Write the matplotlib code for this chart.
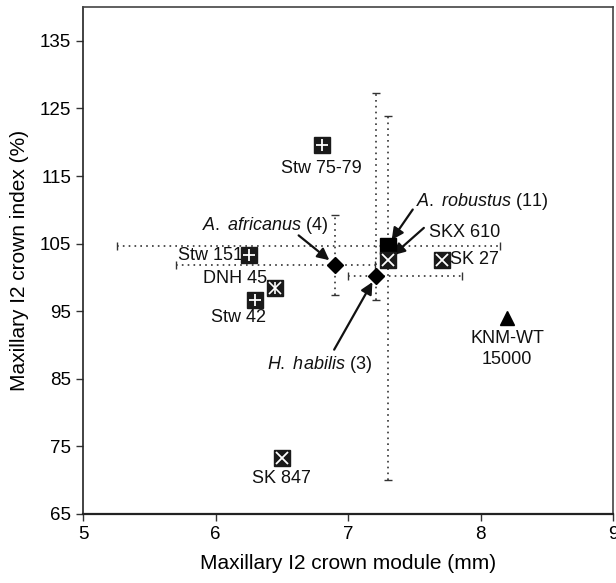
import matplotlib
matplotlib.use("Agg")
import matplotlib.pyplot as plt

plt.rcParams['font.family'] = ['Liberation Sans', 'DejaVu Sans']
plt.rcParams['mathtext.fontset'] = 'custom'
plt.rcParams['mathtext.it'] = 'Liberation Sans:italic'
plt.rcParams['mathtext.rm'] = 'Liberation Sans'

# Group means with observed ranges (min, max)
group_names = ["A. africanus", "H. habilis", "A. robustus"]
group_n = [4, 3, 11]
group_module = [6.90, 7.21, 7.30]
group_index = [101.9, 100.2, 104.7]
group_module_min = [5.70, 7.00, 5.26]
group_module_max = [7.20, 7.86, 8.15]
group_index_min = [97.4, 96.6, 70.0]
group_index_max = [109.3, 127.3, 123.9]

# Individual specimens
spec_names = ["Stw 75-79", "Stw 151", "Stw 42", "DNH 45", "SKX 610", "SK 27", "SK 847", "KNM-WT\n15000"]
spec_module = [6.80, 6.25, 6.30, 6.45, 7.30, 7.71, 6.50, 8.20]
spec_index = [119.6, 103.3, 96.7, 98.4, 102.6, 102.6, 73.3, 94.0]
spec_symbol = ["plus", "plus", "plus", "star", "cross", "cross", "cross", "triangle"]

x_ticks = [5, 6, 7, 8, 9]
y_ticks = [65, 75, 85, 95, 105, 115, 125, 135]

fig = plt.figure(figsize=(6.16, 5.83), dpi=100)
ax = fig.add_axes([83/616, 1 - 514/583, 530/616, 507/583])
ax.set_xlim(5, 9)
ax.set_ylim(65, 140)

dots = (0, (1, 2.5))
for i in range(len(group_names)):
    xerr = [[group_module[i] - group_module_min[i]], [group_module_max[i] - group_module[i]]]
    yerr = [[group_index[i] - group_index_min[i]], [group_index_max[i] - group_index[i]]]
    eb = ax.errorbar([group_module[i]], [group_index[i]], xerr=xerr, yerr=yerr,
                     fmt='none', ecolor='#333333', elinewidth=1.2, capsize=3, capthick=1.0, zorder=1)
    for lc in eb[2]:
        lc.set_linestyle(dots)

# group mean markers
ax.plot(group_module[:2], group_index[:2], 'D', color='black', ms=8, zorder=4)
ax.plot(group_module[2:], group_index[2:], 's', color='black', ms=11, zorder=4)

ms = 11
for x, y, sym in zip(spec_module, spec_index, spec_symbol):
    if sym == "triangle":
        ax.plot(x, y, '^', color='black', ms=10, zorder=5)
        continue
    ax.plot(x, y, 's', color='#1a1a1a', ms=ms, zorder=5)
    if sym == "plus":
        ax.plot(x, y, '+', color='white', ms=8, mew=1.3, zorder=6)
    elif sym == "cross":
        ax.plot(x, y, 'x', color='white', ms=9, mew=1.3, zorder=6)
    elif sym == "star":
        ax.plot(x, y, 'x', color='white', ms=8, mew=1.2, zorder=6)
        ax.plot(x, y, '|', color='white', ms=8, mew=1.2, zorder=6)

fs = 13
lbl = dict(fontsize=fs, color='#111111')
# specimen labels
ax.annotate(spec_names[0], (spec_module[0], spec_index[0]), xytext=(0, -11), textcoords='offset points', ha='center', va='top', **lbl)
ax.annotate(spec_names[1], (spec_module[1], spec_index[1]), xytext=(-4, 0), textcoords='offset points', ha='right', va='center', **lbl)
ax.annotate(spec_names[2], (spec_module[2], spec_index[2]), xytext=(-12, -7), textcoords='offset points', ha='center', va='top', **lbl)
ax.annotate(spec_names[3], (spec_module[3], spec_index[3]), xytext=(-6, 7), textcoords='offset points', ha='right', va='center', **lbl)
ax.annotate(spec_names[5], (spec_module[5], spec_index[5]), xytext=(6, 0), textcoords='offset points', ha='left', va='center', **lbl)
ax.annotate(spec_names[6], (spec_module[6], spec_index[6]), xytext=(0, -9), textcoords='offset points', ha='center', va='top', **lbl)
ax.annotate(spec_names[7], (spec_module[7], spec_index[7]), xytext=(0, -9), textcoords='offset points', ha='center', va='top', linespacing=1.25, **lbl)

arrow = dict(arrowstyle='-|>,head_length=0.7,head_width=0.35', color='#111111', lw=1.6, shrinkA=0, shrinkB=5)
ax.annotate(spec_names[4], (spec_module[4], spec_index[4]), xytext=(30, 20), textcoords='offset points',
            ha='left', va='center', **lbl)
ax.annotate("", (spec_module[4], spec_index[4]), xytext=(26, 23), textcoords='offset points', arrowprops=arrow)

label_offsets = [(-4, 28, 'right'), (-3, -64, 'right'), (20, 32, 'left')]
for i, (dx, dy, ha) in enumerate(label_offsets):
    txt = r"$\mathit{" + group_names[i].replace(" ", r"\ ") + r"}$" + f" ({group_n[i]})"
    ax.annotate(txt, (group_module[i], group_index[i]), xytext=(dx, dy), textcoords='offset points',
                ha=ha, va='center', **lbl)

arrow_tails = [(-26, 21), (-30, -53), (18, 26)]
for i, (dx, dy) in enumerate(arrow_tails):
    ax.annotate("", (group_module[i], group_index[i]), xytext=(dx, dy), textcoords='offset points',
                arrowprops=arrow)

ax.set_xticks(x_ticks)
ax.set_yticks(y_ticks)
ax.tick_params(labelsize=13.5, length=5, width=1, color='#333333')
for s in ax.spines.values():
    s.set_color('#444444')
    s.set_linewidth(1.2)
ax.spines['left'].set_color('#222222')
ax.spines['bottom'].set_color('#222222')
ax.spines['bottom'].set_linewidth(1.6)
ax.set_xlabel("Maxillary I2 crown module (mm)", fontsize=15, labelpad=8)
ax.set_ylabel("Maxillary I2 crown index (%)", fontsize=15, labelpad=8)

fig.savefig("out.png", dpi=100)
